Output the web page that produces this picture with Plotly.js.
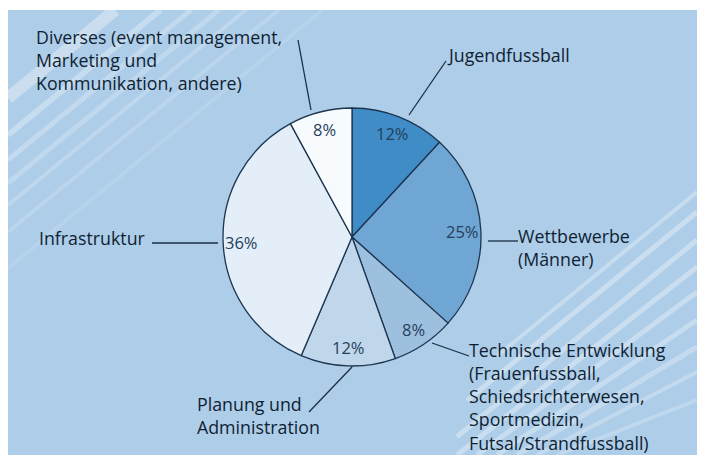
<!DOCTYPE html>
<html>
<head>
<meta charset="utf-8">
<script src="https://cdn.plot.ly/plotly-3.0.1.min.js"></script>
<style>html,body{margin:0;padding:0;background:#fff;}#chart{width:701px;height:455px;}</style>
</head>
<body>
<div id="chart"></div>
<script>
// ---- data ----
const categories = [
  "Jugendfussball",
  "Wettbewerbe<br>(Männer)",
  "Technische Entwicklung<br>(Frauenfussball,<br>Schiedsrichterwesen,<br>Sportmedizin,<br>Futsal/Strandfussball)",
  "Planung und<br>Administration",
  "Infrastruktur",
  "Diverses (event management,<br>Marketing und<br>Kommunikation, andere)"
];
const shares = [12, 25, 8, 12, 36, 8];
const sliceColors = ["#3f8cc6", "#70a6d3", "#9dc0df", "#c0d6eb", "#e4eef8", "#f8fbfe"];

// ---- layout helpers (pixel -> paper) ----
const W = 701, H = 455;
const px = x => x / W;
const py = y => 1 - y / H;
const CX = 352, CY = 237, R = 129;
const LABEL_SIZE = 17.8;
const LINE_GAP = LABEL_SIZE * 1.3;

// label anchors (pixels): left x, centre y of first line
const labelPos = [
  {x: 446, y: 55},
  {x: 517, y: 236},
  {x: 468, y: 350},
  {x: 196, y: 404},
  {x: 38,  y: 238},
  {x: 35,  y: 37}
];
// leader lines (pixels)
const leaders = [
  [409, 115, 446, 61],
  [488, 241, 518, 241],
  [432, 343, 469, 356],
  [352, 367, 309, 412],
  [152, 243, 218, 243],
  [311, 110, 298, 40]
];

const labelFont = {family: "Open Sans, sans-serif", size: LABEL_SIZE, color: "#0f1f33", weight: 500};
const pctFont = {family: "Open Sans, sans-serif", size: 16.5, color: "#253f5c", weight: 500};

const total = shares.reduce((a, b) => a + b, 0);
const annotations = [];
let cum = 0;
shares.forEach((v, i) => {
  const mid = (cum + v / 2) / total * 2 * Math.PI;
  cum += v;
  const r = R * 0.86;
  const x = CX + r * Math.sin(mid);
  const y = CY - r * Math.cos(mid);
  annotations.push({
    x: px(x), y: py(y), xref: "paper", yref: "paper",
    text: v + "%", showarrow: false, font: pctFont,
    xanchor: "center", yanchor: "middle"
  });
  const nLines = categories[i].split("<br>").length;
  annotations.push({
    x: px(labelPos[i].x), y: py(labelPos[i].y + (nLines - 1) * LINE_GAP / 2), xref: "paper", yref: "paper",
    text: categories[i], showarrow: false, align: "left", font: labelFont,
    xanchor: "left", yanchor: "middle", borderpad: 0
  });
});

const shapes = [];
// background panel
shapes.push({type: "rect", xref: "paper", yref: "paper", x0: px(8), x1: px(697), y0: py(455), y1: py(10),
  fillcolor: "#aecde9", line: {width: 0}, layer: "below"});
// decorative stripes upper-left
const ulStripes = [[8, 98, 12, 0.35], [8, 135, 6, 0.3], [8, 160, 5, 0.25], [8, 183, 5, 0.22], [8, 205, 4, 0.2], [8, 232, 4, 0.16], [8, 268, 4, 0.12]];
ulStripes.forEach(s => {
  const x0 = s[0], y0 = s[1];
  const L = (y0 - 10) / 0.82;
  shapes.push({type: "line", xref: "paper", yref: "paper", x0: px(x0), y0: py(y0), x1: px(x0 + L), y1: py(10),
    line: {color: "rgba(255,255,255," + s[3] + ")", width: s[2]}, layer: "below"});
});
// decorative stripes lower-right
const lrStripes = [[192, 4, 0.3, 200], [212, 5, 0.35, 230], [240, 5, 0.35, 240], [267, 5, 0.35, 240], [292, 5, 0.32, 220], [320, 5, 0.3, 200], [347, 5, 0.28, 180], [372, 4, 0.25, 160], [400, 4, 0.22, 140]];
lrStripes.forEach(s => {
  const y0 = s[0], L = s[3];
  shapes.push({type: "line", xref: "paper", yref: "paper", x0: px(697), y0: py(y0), x1: px(697 - L), y1: py(Math.min(455, y0 + 0.82 * L)),
    line: {color: "rgba(255,255,255," + s[2] + ")", width: s[1]}, layer: "below"});
});
// leader lines
leaders.forEach(l => {
  shapes.push({type: "line", xref: "paper", yref: "paper", x0: px(l[0]), y0: py(l[1]), x1: px(l[2]), y1: py(l[3]),
    line: {color: "#1b2e45", width: 1.3}});
});

const trace = {
  type: "pie",
  labels: categories,
  values: shares,
  sort: false,
  direction: "clockwise",
  rotation: 0,
  textinfo: "none",
  hoverinfo: "label+percent",
  marker: {colors: sliceColors, line: {color: "#1d3550", width: 1.3}},
  domain: {x: [px(CX - R), px(CX + R)], y: [py(CY + R), py(CY - R)]},
  showlegend: false
};

const layout = {
  width: W, height: H,
  margin: {l: 0, r: 0, t: 0, b: 0},
  paper_bgcolor: "#ffffff",
  showlegend: false,
  shapes: shapes,
  annotations: annotations
};

Plotly.newPlot("chart", [trace], layout, {displayModeBar: false, staticPlot: true});
</script>
</body>
</html>
